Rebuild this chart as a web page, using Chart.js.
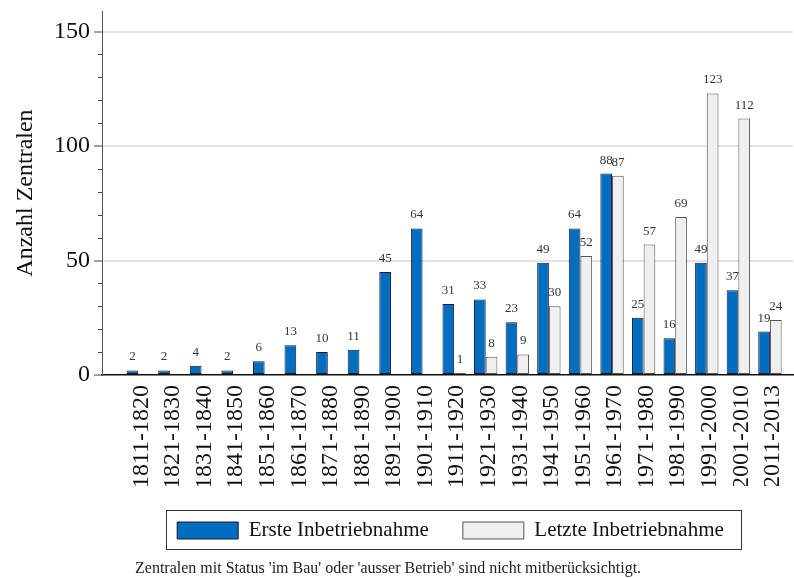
<!DOCTYPE html>
<html lang="de">
<head>
<meta charset="UTF-8">
<title>Anzahl Zentralen</title>
<script src="https://cdn.jsdelivr.net/npm/chart.js"></script>
<style>
    body { margin: 0; background: #fff; }
    #wrap { position: relative; width: 794px; height: 578px; }
    #note {
        position: absolute; left: 135px; top: 560px;
        font-family: 'Liberation Serif', serif; font-size: 16px; line-height: 16px;
        color: #222; white-space: nowrap;
    }
</style>
</head>
<body>
<div id="wrap">
    <canvas id="chart"></canvas>
    <div id="note">Zentralen mit Status 'im Bau' oder 'ausser Betrieb' sind nicht mitberücksichtigt.</div>
</div>
<script>
const categories = ['1811-1820', '1821-1830', '1831-1840', '1841-1850', '1851-1860', '1861-1870',
    '1871-1880', '1881-1890', '1891-1900', '1901-1910', '1911-1920', '1921-1930', '1931-1940',
    '1941-1950', '1951-1960', '1961-1970', '1971-1980', '1981-1990', '1991-2000', '2001-2010', '2011-2013'];
const ersteInbetriebnahme = [2, 2, 4, 2, 6, 13, 10, 11, 45, 64, 31, 33, 23, 49, 64, 88, 25, 16, 49, 37, 19];
const letzteInbetriebnahme = [null, null, null, null, null, null, null, null, null, null,
    1, 8, 9, 30, 52, 87, 57, 69, 123, 112, 24];
const yMajorTicks = [0, 50, 100, 150];
const yMinorTicks = [10, 20, 30, 40, 60, 70, 80, 90, 110, 120, 130, 140];

Chart.defaults.font.family = "'Liberation Serif', serif";
Chart.defaults.color = '#111';

const toPoints = arr => arr.map((v, i) => ({ x: i, y: v }));

// value labels above bars
const valueLabels = {
    id: 'valueLabels',
    afterDatasetsDraw(chart) {
        const ctx = chart.ctx;
        ctx.save();
        ctx.font = "13px 'Liberation Serif'";
        ctx.fillStyle = '#333';
        ctx.textAlign = 'center';
        ctx.textBaseline = 'alphabetic';
        chart.data.datasets.forEach((ds, di) => {
            chart.getDatasetMeta(di).data.forEach((bar, i) => {
                const v = ds.data[i].y;
                if (v == null) return;
                ctx.fillText(String(v), bar.x, bar.y - 10);
            });
        });
        ctx.restore();
    }
};

// minor y ticks, legend shift and frame
const axisExtras = {
    id: 'axisExtras',
    afterLayout(chart) {
        const lg = chart.legend;
        const a = chart.chartArea;
        const dx = (a.left + a.right) / 2 + 3 - (lg.left + lg.right) / 2;
        lg.left += dx;
        lg.right += dx;
    },
    afterDraw(chart) {
        const ctx = chart.ctx;
        const y = chart.scales.y;
        ctx.save();
        ctx.strokeStyle = '#444';
        ctx.lineWidth = 1;
        yMinorTicks.forEach(v => {
            const py = Math.round(y.getPixelForValue(v)) + 0.5;
            ctx.beginPath();
            ctx.moveTo(y.right - 4, py);
            ctx.lineTo(y.right, py);
            ctx.stroke();
        });
        const hb = chart.legend.legendHitBoxes;
        if (hb && hb.length) {
            const first = hb[0], last = hb[hb.length - 1];
            const x0 = first.left - 11, x1 = last.left + last.width + 17;
            const y0 = first.top - 10, y1 = first.top + first.height + 8;
            ctx.strokeStyle = '#333';
            ctx.strokeRect(Math.round(x0) + 0.5, Math.round(y0) + 0.5, Math.round(x1 - x0), Math.round(y1 - y0));
        }
        ctx.restore();
    }
};

new Chart(document.getElementById('chart'), {
    type: 'bar',
    data: {
        datasets: [
            {
                label: 'Erste Inbetriebnahme',
                data: toPoints(ersteInbetriebnahme),
                backgroundColor: '#006ec0',
                borderColor: '#1a1a2a',
                borderWidth: 1,
                borderSkipped: false
            },
            {
                label: 'Letzte Inbetriebnahme',
                data: toPoints(letzteInbetriebnahme),
                backgroundColor: '#efefef',
                borderColor: '#555',
                borderWidth: 1,
                borderSkipped: false
            }
        ]
    },
    options: {
        responsive: true,
        maintainAspectRatio: false,
        animation: false,
        categoryPercentage: 0.74,
        barPercentage: 1.0,
        layout: { padding: { left: 0, right: 1, top: 11, bottom: 27 } },
        plugins: {
            legend: {
                position: 'bottom',
                labels: {
                    boxWidth: 61,
                    boxHeight: 17,
                    padding: 34,
                    color: '#111',
                    font: { size: 21 }
                }
            },
            tooltip: { enabled: false }
        },
        scales: {
            x: {
                type: 'linear',
                offset: false,
                min: -1.15,
                max: 20.73,
                afterBuildTicks: s => { s.ticks = categories.map((c, i) => ({ value: i })); },
                afterFit: s => { s.height = 111; s.paddingLeft = 0; s.paddingRight = 0; },
                grid: { display: false, drawTicks: false, offset: false },
                border: { display: true, color: '#111', width: 1.5 },
                ticks: {
                    autoSkip: false,
                    minRotation: 90,
                    maxRotation: 90,
                    padding: 10,
                    labelOffset: 3,
                    color: '#111',
                    font: { size: 24 },
                    callback: v => categories[v] ?? ''
                }
            },
            y: {
                min: 0,
                max: 159,
                afterBuildTicks: s => { s.ticks = yMajorTicks.map(v => ({ value: v })); },
                afterFit: s => { s.width = 102; s.paddingTop = 0; s.paddingBottom = 0; },
                grid: {
                    color: c => c.tick && c.tick.value === 0 ? 'rgba(0,0,0,0)' : '#e2e2e2',
                    lineWidth: 2,
                    tickColor: '#444',
                    tickWidth: 1,
                    tickLength: 8
                },
                border: { display: true, color: '#555', width: 1 },
                ticks: {
                    padding: 4,
                    color: '#111',
                    font: { size: 24 }
                },
                title: {
                    display: true,
                    text: 'Anzahl Zentralen',
                    color: '#111',
                    font: { size: 24 },
                    padding: { top: 11, bottom: 0 }
                }
            }
        }
    },
    plugins: [valueLabels, axisExtras]
});
</script>
</body>
</html>
